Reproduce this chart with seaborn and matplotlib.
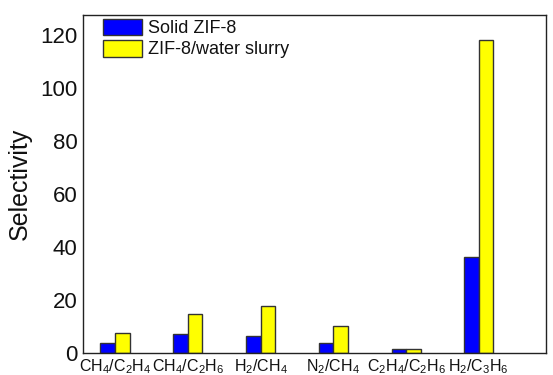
import matplotlib
matplotlib.use("Agg")
import matplotlib.pyplot as plt
import seaborn as sns
import pandas as pd

categories = ["CH$_4$/C$_2$H$_4$", "CH$_4$/C$_2$H$_6$", "H$_2$/CH$_4$",
              "N$_2$/CH$_4$", "C$_2$H$_4$/C$_2$H$_6$", "H$_2$/C$_3$H$_6$"]
solid_zif8 = [3.9, 7.0, 6.3, 3.8, 1.5, 36.1]
slurry = [7.7, 14.6, 17.6, 10.0, 1.5, 118.0]
series_names = ["Solid ZIF-8", "ZIF-8/water slurry"]

df = pd.DataFrame({
    "cat": categories * 2,
    "val": solid_zif8 + slurry,
    "series": [series_names[0]] * len(categories) + [series_names[1]] * len(categories),
})

sns.set_theme(style="white")
plt.rcParams["font.family"] = ["Liberation Sans", "DejaVu Sans"]
plt.rcParams["mathtext.fontset"] = "custom"
plt.rcParams["mathtext.rm"] = "Liberation Sans"
plt.rcParams["mathtext.it"] = "Liberation Sans"
for k in ["text.color", "axes.labelcolor", "xtick.color", "ytick.color"]:
    plt.rcParams[k] = "#111111"

fig = plt.figure(figsize=(5.53, 3.75), dpi=100)
ax = fig.add_axes([0.150, 0.0587, 0.837, 0.9013])

sns.barplot(data=df, x="cat", y="val", hue="series", order=categories,
            hue_order=series_names, palette=["#0000ff", "#ffff00"],
            width=0.4, edgecolor="#333333", linewidth=1.0, saturation=1,
            errorbar=None, ax=ax)

ax.set_xlim(-0.44, 5.92)
ax.set_ylim(0, 127.5)
ax.set_yticks([0, 20, 40, 60, 80, 100, 120])
ax.tick_params(axis="both", length=0)
ax.tick_params(axis="y", labelsize=16, pad=4)
ax.tick_params(axis="x", labelsize=11.5, pad=3)
ax.set_xlabel("")
ax.set_ylabel("Selectivity", fontsize=18, labelpad=6)
for s in ax.spines.values():
    s.set_visible(True)
    s.set_color("#222222")
    s.set_linewidth(1.0)

ax.legend(loc="upper left", frameon=False, fontsize=13,
          handlelength=2.2, handleheight=1.05, labelspacing=0.15,
          handletextpad=0.3, borderaxespad=0.0, borderpad=0.2,
          bbox_to_anchor=(0.035, 1.0))

fig.savefig("out.png", dpi=100)
